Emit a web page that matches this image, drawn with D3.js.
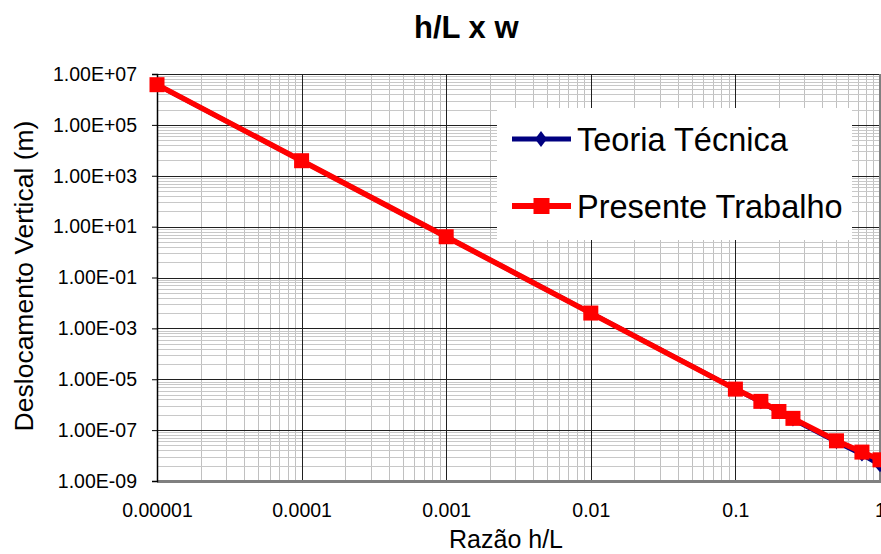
<!DOCTYPE html>
<html>
<head>
<meta charset="utf-8">
<script src="https://cdn.jsdelivr.net/npm/d3@7"></script>
<style>
  body { margin: 0; background: #fff; }
  text { font-family: "Liberation Sans", Arial, sans-serif; }
</style>
</head>
<body>
<div id="chart"></div>
<script>
// values
const razaoHL = [0.00001, 0.0001, 0.001, 0.01, 0.1, 0.15, 0.2, 0.25, 0.5, 0.75, 1];
const teoriaTecnica = [3.8e6, 3.9e3, 4.0, 4.0e-3, 4.1e-6, 1.25e-6, 5.2e-7, 2.6e-7, 3.4e-8, 1.1e-8, 4.2e-9];
const presenteTrabalho = [3.8e6, 3.9e3, 4.0, 4.0e-3, 4.1e-6, 1.35e-6, 5.4e-7, 2.9e-7, 3.8e-8, 1.37e-8, 6.8e-9];

const xTicks = [0.00001, 0.0001, 0.001, 0.01, 0.1, 1];
const xTickLabels = ["0.00001", "0.0001", "0.001", "0.01", "0.1", "1"];
const yTicks = [1e7, 1e5, 1e3, 1e1, 1e-1, 1e-3, 1e-5, 1e-7, 1e-9];
const yTickLabels = ["1.00E+07", "1.00E+05", "1.00E+03", "1.00E+01", "1.00E-01",
  "1.00E-03", "1.00E-05", "1.00E-07", "1.00E-09"];
const seriesNames = ["Teoria Técnica", "Presente Trabalho"];

const W = 881, H = 554;
const plot = { left: 157, right: 880, top: 74, bottom: 481 };

const svg = d3.select("#chart").append("svg")
  .attr("width", W).attr("height", H);

const x = d3.scaleLog().domain([1e-5, 1]).range([plot.left, plot.right]);
const y = d3.scaleLog().domain([1e-9, 1e7]).range([plot.bottom, plot.top]);

// minor grid: x every k*10^n, y Excel-style (major unit 100)
const xMinor = [];
for (let e = -5; e < 0; e++) for (let k = 2; k <= 9; k++) xMinor.push(k * Math.pow(10, e));
const yMinor = [];
for (let e = -9; e < 7; e += 2) for (let k = 2; k <= 9; k++) yMinor.push(k * k * Math.pow(10, e));

const grid = svg.append("g").attr("shape-rendering", "crispEdges");
grid.selectAll(".vminor").data(xMinor).enter().append("line")
  .attr("x1", d => Math.round(x(d)) + 0.5).attr("x2", d => Math.round(x(d)) + 0.5)
  .attr("y1", plot.top).attr("y2", plot.bottom)
  .attr("stroke", "#c0c0c0").attr("stroke-width", 1);
grid.selectAll(".hminor").data(yMinor).enter().append("line")
  .attr("y1", d => Math.round(y(d)) + 0.5).attr("y2", d => Math.round(y(d)) + 0.5)
  .attr("x1", plot.left).attr("x2", plot.right)
  .attr("stroke", "#c8c8c8").attr("stroke-width", 1);
grid.selectAll(".vmajor").data(xTicks).enter().append("line")
  .attr("x1", d => Math.round(x(d)) + 0.5).attr("x2", d => Math.round(x(d)) + 0.5)
  .attr("y1", plot.top).attr("y2", plot.bottom)
  .attr("stroke", "#202020").attr("stroke-width", 1);
grid.selectAll(".hmajor").data(yTicks).enter().append("line")
  .attr("y1", d => Math.round(y(d)) + 0.5).attr("y2", d => Math.round(y(d)) + 0.5)
  .attr("x1", plot.left).attr("x2", plot.right)
  .attr("stroke", "#202020").attr("stroke-width", 1);

// plot frame: gray bottom/right, dark axis on left
grid.append("line").attr("x1", plot.left).attr("x2", plot.right + 1)
  .attr("y1", plot.bottom).attr("y2", plot.bottom)
  .attr("stroke", "#808080").attr("stroke-width", 3);
grid.append("line").attr("x1", plot.right - 0.5).attr("x2", plot.right - 0.5)
  .attr("y1", plot.top).attr("y2", plot.bottom)
  .attr("stroke", "#808080").attr("stroke-width", 2);

// y axis
const yAxis = svg.append("g")
  .attr("transform", "translate(" + plot.left + ",0)")
  .call(d3.axisLeft(y).tickValues(yTicks)
    .tickFormat((d, i) => yTickLabels[i]).tickSize(5).tickPadding(15));
yAxis.select(".domain").attr("stroke", "#000").attr("stroke-width", 1.5);
yAxis.selectAll(".tick line").attr("stroke", "#000");
yAxis.selectAll("text").attr("font-size", 19.5).attr("fill", "#000")
  .style("font-family", '"Liberation Sans", Arial, sans-serif');

// x axis
const xAxis = svg.append("g")
  .attr("transform", "translate(0," + plot.bottom + ")")
  .call(d3.axisBottom(x).tickValues(xTicks)
    .tickFormat((d, i) => xTickLabels[i]).tickSize(0).tickPadding(22));
xAxis.select(".domain").remove();
xAxis.selectAll("text").attr("font-size", 19.5).attr("fill", "#000")
  .style("font-family", '"Liberation Sans", Arial, sans-serif');

// series
const line = d3.line().x(d => x(d[0])).y(d => y(d[1]));
const blueData = razaoHL.map((v, i) => [v, teoriaTecnica[i]]);
const redData = razaoHL.map((v, i) => [v, presenteTrabalho[i]]);

svg.append("path").datum(blueData)
  .attr("fill", "none").attr("stroke", "#000080").attr("stroke-width", 4.5)
  .attr("stroke-linejoin", "round").attr("d", line);
svg.selectAll(".diamond").data(blueData).enter().append("path")
  .attr("d", "M0,-7L6,0L0,7L-6,0Z")
  .attr("transform", d => "translate(" + x(d[0]) + "," + y(d[1]) + ")")
  .attr("fill", "#000080");

svg.append("path").datum(redData)
  .attr("fill", "none").attr("stroke", "#ff0000").attr("stroke-width", 5.5)
  .attr("stroke-linejoin", "round").attr("d", line);
svg.selectAll(".square").data(redData).enter().append("rect")
  .attr("x", d => x(d[0]) - 7.5).attr("y", d => y(d[1]) - 7.5)
  .attr("width", 15).attr("height", 15)
  .attr("fill", "#ff0000");

// legend
const legend = svg.append("g");
legend.append("rect").attr("x", 497).attr("y", 108)
  .attr("width", 355).attr("height", 132).attr("fill", "#fff");
const rows = [
  { name: seriesNames[0], color: "#000080", y: 139 },
  { name: seriesNames[1], color: "#ff0000", y: 206 }
];
rows.forEach((r, i) => {
  legend.append("line").attr("x1", 512).attr("x2", 571)
    .attr("y1", r.y).attr("y2", r.y)
    .attr("stroke", r.color).attr("stroke-width", i ? 6 : 5);
  if (i === 0) {
    legend.append("path").attr("d", "M0,-8L6,0L0,8L-6,0Z")
      .attr("transform", "translate(541," + r.y + ")").attr("fill", r.color);
  } else {
    legend.append("rect").attr("x", 533.5).attr("y", r.y - 8)
      .attr("width", 16).attr("height", 16).attr("fill", r.color);
  }
  legend.append("text").attr("x", 577).attr("y", r.y + 12)
    .attr("font-size", 32.5).attr("fill", "#000").text(r.name);
});

// titles
svg.append("text").attr("x", 414).attr("y", 38)
  .attr("font-size", 31).attr("font-weight", "bold").text("h/L x w");
svg.append("text").attr("x", 506).attr("y", 548)
  .attr("text-anchor", "middle").attr("font-size", 25).text("Razão h/L");
svg.append("text")
  .attr("transform", "translate(33,276) rotate(-90)")
  .attr("text-anchor", "middle").attr("font-size", 26.5)
  .text("Deslocamento Vertical (m)");
</script>
</body>
</html>
